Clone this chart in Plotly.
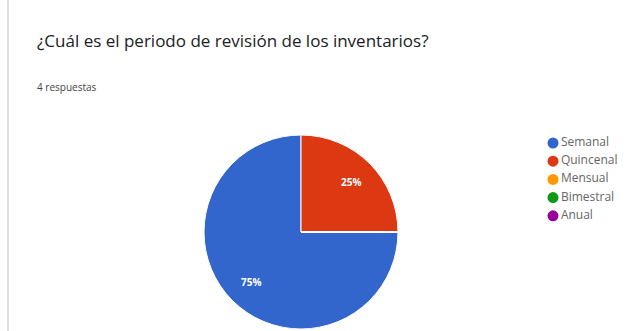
import math
import plotly.graph_objects as go

# Survey answers
categories = ["Semanal", "Quincenal", "Mensual", "Bimestral", "Anual"]
responses = [3, 1, 0, 0, 0]
colors = ["#3366cc", "#dc3912", "#ff9900", "#109618", "#990099"]

title_text = "¿Cuál es el periodo de revisión de los inventarios?"
subtitle_text = f"{sum(responses)} respuestas"

W, H = 632, 331
cx, cy, r = 301, 232, 97  # pie centre / radius in pixels
label_radius = 0.73        # percent labels sit at this fraction of the radius
start_deg = 90             # first slice starts at 3 o'clock, clockwise

fig = go.Figure()

fig.add_trace(go.Pie(
    labels=categories,
    values=responses,
    sort=False,
    direction="clockwise",
    rotation=start_deg,
    marker=dict(colors=colors, line=dict(color="white", width=1)),
    textinfo="none",
    showlegend=False,
    hoverinfo="label+percent",
    domain=dict(x=[(cx - r) / W, (cx + r) / W],
                y=[(H - cy - r) / H, (H - cy + r) / H]),
))

# Percent labels placed at the middle angle of each slice
total = sum(responses)
annotations = []
cum = 0.0
for cat, val in zip(categories, responses):
    frac = val / total
    if frac > 0:
        theta = math.radians(-(cum + frac / 2) * 360)  # clockwise from 3 o'clock
        px = cx + label_radius * r * math.cos(theta)
        py = (H - cy) + label_radius * r * math.sin(theta)
        annotations.append(dict(
            text=f"<b>{frac:.0%}</b>", x=px / W, y=py / H, xref="paper", yref="paper",
            xanchor="center", yanchor="middle", showarrow=False,
            font=dict(size=10, color="white", family="Open Sans"),
        ))
    cum += frac

# Legend drawn as circle markers with labels
fig.add_trace(go.Scatter(
    x=[0] * len(categories),
    y=list(range(len(categories))),
    mode="markers+text",
    marker=dict(symbol="circle", size=11, color=colors),
    text=categories,
    textposition="middle right",
    textfont=dict(size=12, color="#666666", family="Open Sans"),
    hoverinfo="skip",
    showlegend=False,
))

row0, row_step = 143, 18.2
leg_x = 553
fig.update_layout(
    width=W, height=H,
    margin=dict(l=0, r=0, t=0, b=0),
    paper_bgcolor="white",
    plot_bgcolor="rgba(0,0,0,0)",
    xaxis=dict(visible=False, range=[-leg_x, W - leg_x], fixedrange=True),
    yaxis=dict(visible=False,
               range=[(H - row0) / row_step, -row0 / row_step],
               fixedrange=True),
    showlegend=False,
    annotations=annotations + [
        dict(text=title_text, x=35 / W, y=1 - 40 / H, xref="paper", yref="paper",
             xanchor="left", yanchor="middle", showarrow=False,
             font=dict(size=17, color="#202124", family="Open Sans")),
        dict(text=subtitle_text, x=35 / W, y=1 - 87 / H, xref="paper", yref="paper",
             xanchor="left", yanchor="middle", showarrow=False,
             font=dict(size=10, color="#444444", family="Open Sans")),
    ],
    shapes=[
        dict(type="line", xref="paper", yref="paper",
             x0=8 / W, x1=8 / W, y0=0, y1=1,
             line=dict(color="#dadce0", width=2)),
    ],
)

fig.write_html("out.html")
